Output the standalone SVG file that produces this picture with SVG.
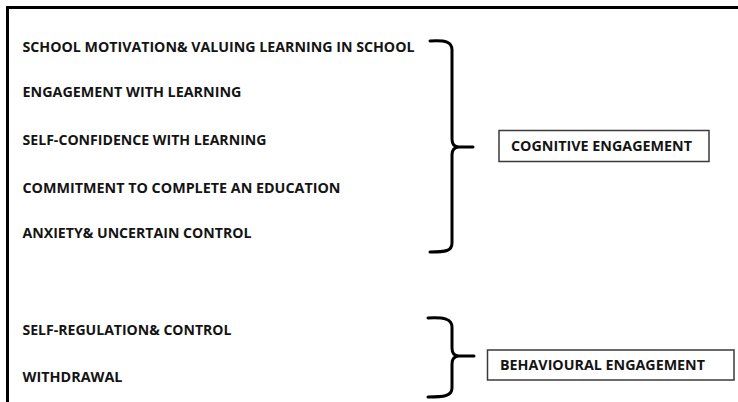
<svg xmlns="http://www.w3.org/2000/svg" width="738" height="402" viewBox="0 0 738 402">
  <style>
    .lbl { font-family: "Open Sans", "Liberation Sans", sans-serif; font-weight: 700; font-size: 14px; fill: #141414; }
    .box { fill: #ffffff; stroke: #3a3a3a; stroke-width: 1.5; }
    .brace { fill: none; stroke: #000000; stroke-width: 3; stroke-linecap: round; stroke-linejoin: round; }
    .frame { fill: none; stroke: #000000; stroke-width: 3; }
  </style>
  <rect width="738" height="402" fill="#ffffff"/>

  <!-- outer frame: top and left edges -->
  <path class="frame" d="M7.5,402 V7.5 H738"/>

  <!-- cognitive items -->
  <g id="item-school-motivation">
    <text class="lbl" x="22.5" y="51.5" textLength="392" lengthAdjust="spacingAndGlyphs">SCHOOL MOTIVATION&amp; VALUING LEARNING IN SCHOOL</text>
  </g>
  <g id="item-engagement-learning">
    <text class="lbl" x="22.5" y="97" textLength="219" lengthAdjust="spacingAndGlyphs">ENGAGEMENT WITH LEARNING</text>
  </g>
  <g id="item-self-confidence">
    <text class="lbl" x="22.5" y="145" textLength="244" lengthAdjust="spacingAndGlyphs">SELF-CONFIDENCE WITH LEARNING</text>
  </g>
  <g id="item-commitment">
    <text class="lbl" x="22.5" y="192.5" textLength="318" lengthAdjust="spacingAndGlyphs">COMMITMENT TO COMPLETE AN EDUCATION</text>
  </g>
  <g id="item-anxiety">
    <text class="lbl" x="22.5" y="238" textLength="229" lengthAdjust="spacingAndGlyphs">ANXIETY&amp; UNCERTAIN CONTROL</text>
  </g>

  <!-- behavioural items -->
  <g id="item-self-regulation">
    <text class="lbl" x="22.5" y="335" textLength="209" lengthAdjust="spacingAndGlyphs">SELF-REGULATION&amp; CONTROL</text>
  </g>
  <g id="item-withdrawal">
    <text class="lbl" x="22.5" y="382" textLength="100" lengthAdjust="spacingAndGlyphs">WITHDRAWAL</text>
  </g>

  <!-- category boxes -->
  <g id="cognitive-engagement">
    <rect class="box" x="499" y="130.5" width="210" height="31"/>
    <text class="lbl" x="511" y="151" textLength="181" lengthAdjust="spacingAndGlyphs">COGNITIVE ENGAGEMENT</text>
  </g>
  <g id="behavioural-engagement">
    <rect class="box" x="487.5" y="350" width="246.5" height="30"/>
    <text class="lbl" x="500" y="369.5" textLength="205" lengthAdjust="spacingAndGlyphs">BEHAVIOURAL ENGAGEMENT</text>
  </g>

  <!-- braces grouping items into categories -->
  <g id="connectors">
    <path class="brace" d="M430,41 C446,40 452,42 452,50 V139 Q452,147 459,147 H473 M459,147 Q452,147 452,155 V243 C452,251 446,252 430,252"/>
    <path class="brace" d="M428,318 C444,317 452,319 452,327 V348 Q452,356 459,356 H474 M459,356 Q452,356 452,364 V388 C452,396 444,397 428,397"/>
  </g>
</svg>
